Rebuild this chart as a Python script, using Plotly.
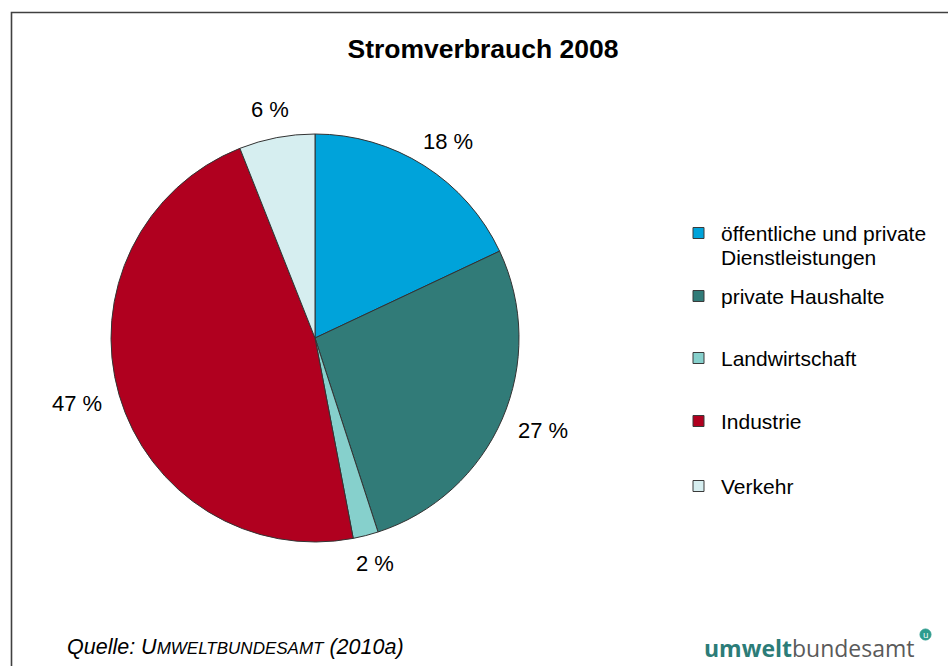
import math
import plotly.graph_objects as go

# Stromverbrauch nach Sektoren, 2008 (Anteile in Prozent)
sektoren = [
    "öffentliche und private<br>Dienstleistungen",
    "private Haushalte",
    "Landwirtschaft",
    "Industrie",
    "Verkehr",
]
anteile = [18, 27, 2, 47, 6]
farben = ["#00A3DA", "#317B78", "#86D0CC", "#B0001F", "#D6EEF0"]

W, H = 948, 666
FONT = "Arial, Liberation Sans, sans-serif"

# pie placement in pixels
cx, cy, R = 315, 338, 204


def px(x):
    return x / W


def py(y):
    return 1 - y / H


fig = go.Figure()
fig.add_trace(
    go.Pie(
        labels=[s.replace("<br>", " ") for s in sektoren],
        values=anteile,
        marker=dict(colors=farben, line=dict(color="#333333", width=1)),
        sort=False,
        direction="clockwise",
        rotation=0,
        textinfo="none",
        hoverinfo="label+percent",
        showlegend=False,
        domain=dict(x=[px(cx - R), px(cx + R)], y=[py(cy + R), py(cy - R)]),
    )
)

annotations = []
shapes = []

# percentage labels: the text box sits a fixed gap outside the rim,
# pushed outward along the slice's mid angle by half its own size
LABEL_SIZE = 22
gap = 18
total = sum(anteile)
kum = 0
for v in anteile:
    mid = (kum + v / 2) / total * 2 * math.pi
    kum += v
    text = f"{v} %"
    half_w = 6.5 * len(text)
    half_h = 11
    s, c = math.sin(mid), math.cos(mid)
    lx = cx + (R + gap) * s + half_w * s
    ly = cy - (R + gap) * c - half_h * c
    annotations.append(dict(
        x=px(lx), y=py(ly), xref="paper", yref="paper",
        text=text, showarrow=False, xanchor="center", yanchor="middle",
        font=dict(family=FONT, size=LABEL_SIZE, color="#000000"),
    ))

# legend: coloured squares with labels
legend_rows = [233, 296, 358, 421, 486]
line_gap = 24
for name, farbe, y0 in zip(sektoren, farben, legend_rows):
    shapes.append(dict(
        type="rect", xref="paper", yref="paper",
        x0=px(693), x1=px(704), y0=py(y0 + 5.5), y1=py(y0 - 5.5),
        fillcolor=farbe, line=dict(color="#3a3a3a", width=1),
    ))
    for i, zeile in enumerate(name.split("<br>")):
        annotations.append(dict(
            x=px(718.5), y=py(y0 + i * line_gap), xref="paper", yref="paper",
            text=zeile, showarrow=False, xanchor="left", yanchor="middle",
            font=dict(family=FONT, size=21, color="#000000"),
        ))

# outer frame
shapes.append(dict(
    type="rect", xref="paper", yref="paper",
    x0=px(11.5), x1=px(990), y0=py(700), y1=py(12.5),
    line=dict(color="#404040", width=1.6), fillcolor="rgba(0,0,0,0)", layer="below",
))

# source note
annotations.append(dict(
    x=px(65), y=py(647), xref="paper", yref="paper",
    text="<i>Quelle: U<span style='font-size:17px'>MWELTBUNDESAMT</span> (2010a)</i>",
    showarrow=False, xanchor="left", yanchor="middle",
    font=dict(family=FONT, size=21.5, color="#000000"),
))

# publisher mark
annotations.append(dict(
    x=px(702), y=py(648), xref="paper", yref="paper",
    text="<b><span style='color:#2C7C78'>umwelt</span></b><span style='color:#5a5a5a'>bundesamt</span>",
    showarrow=False, xanchor="left", yanchor="middle",
    font=dict(family="Open Sans, sans-serif", size=23),
))
shapes.append(dict(
    type="circle", xref="paper", yref="paper",
    x0=px(920), x1=px(931), y0=py(640), y1=py(629),
    fillcolor="#2E9C8E", line=dict(color="#2E9C8E", width=1),
))
annotations.append(dict(
    x=px(925.5), y=py(634.5), xref="paper", yref="paper",
    text="u", showarrow=False, xanchor="center", yanchor="middle",
    font=dict(family="Open Sans, sans-serif", size=9, color="#ffffff"),
))

fig.update_layout(
    width=W, height=H,
    margin=dict(l=0, r=0, t=0, b=0),
    paper_bgcolor="#ffffff",
    plot_bgcolor="#ffffff",
    title=dict(
        text="<b>Stromverbrauch 2008</b>",
        x=px(483), y=py(49), xanchor="center", yanchor="middle",
        font=dict(family=FONT, size=26.5, color="#000000"),
    ),
    annotations=annotations,
    shapes=shapes,
)

fig.write_html("out.html")
